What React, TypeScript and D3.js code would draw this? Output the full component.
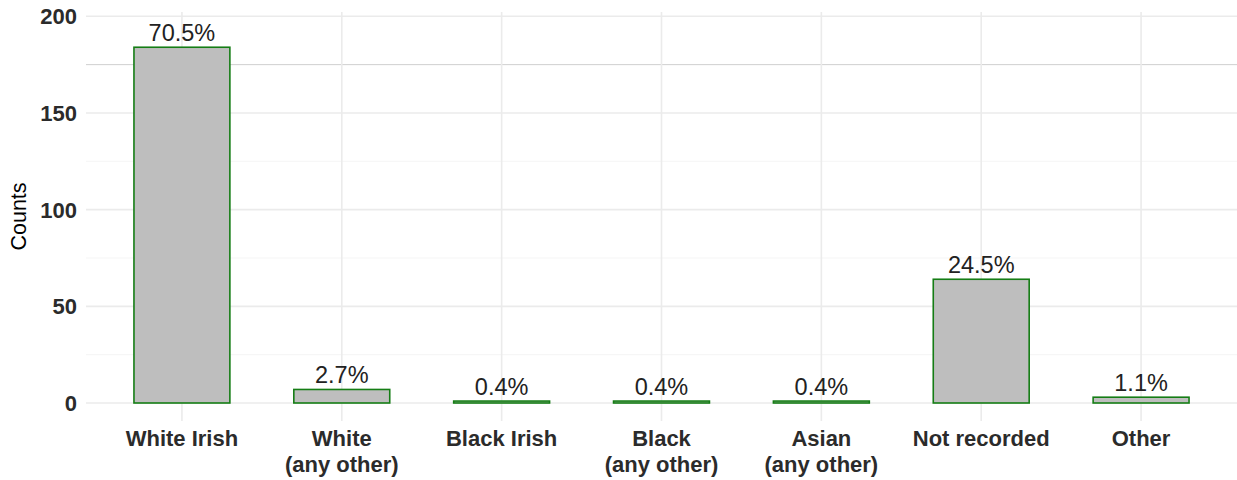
import * as d3 from 'd3';

const categories = [
  'White Irish',
  'White\n(any other)',
  'Black Irish',
  'Black\n(any other)',
  'Asian\n(any other)',
  'Not recorded',
  'Other',
];
const counts = [184, 7, 1, 1, 1, 64, 3];
const percentLabels = ['70.5%', '2.7%', '0.4%', '0.4%', '0.4%', '24.5%', '1.1%'];
const majorTicks = [0, 50, 100, 150, 200];
const minorTicks = [25, 75, 125, 175];

const W = 1237;
const H = 480;
const panel = { left: 86, right: 1237, top: 12, bottom: 421 };

export default function App() {
  // ggplot-style discrete axis: 0.6 units of padding on each side
  const step = (panel.right - panel.left) / (categories.length - 1 + 1.2);
  const x = d3
    .scalePoint<string>()
    .domain(categories)
    .range([panel.left + 0.6 * step, panel.right - 0.6 * step]);
  const barW = step * 0.6;

  const y = d3.scaleLinear().domain([0, 200]).range([403, 16.3]);

  const font = "'Liberation Sans', Arial, sans-serif";

  return (
    <svg
      width={W}
      height={H}
      style={{ position: 'fixed', left: 0, top: 0, background: '#fff' }}
      fontFamily={font}
    >
      {/* minor grid */}
      {minorTicks.map((t) => (
        <line
          key={'mn' + t}
          x1={panel.left}
          x2={panel.right}
          y1={y(t)}
          y2={y(t)}
          stroke={t === 175 ? '#cfcfcf' : '#f2f2f2'}
          strokeWidth={t === 175 ? 1 : 0.8}
        />
      ))}
      {/* major grid */}
      {majorTicks.map((t) => (
        <line
          key={'mj' + t}
          x1={panel.left}
          x2={panel.right}
          y1={y(t)}
          y2={y(t)}
          stroke="#ebebeb"
          strokeWidth={1.6}
        />
      ))}
      {categories.map((c) => (
        <line
          key={'v' + c}
          x1={x(c)!}
          x2={x(c)!}
          y1={panel.top}
          y2={panel.bottom}
          stroke="#ebebeb"
          strokeWidth={1.6}
        />
      ))}

      {/* bars */}
      {categories.map((c, i) => (
        <rect
          key={'b' + c}
          x={x(c)! - barW / 2}
          y={y(counts[i])}
          width={barW}
          height={y(0) - y(counts[i])}
          fill="#bebebe"
          stroke="#157d15"
          strokeWidth={1.6}
        />
      ))}

      {/* percentage labels */}
      {categories.map((c, i) => (
        <text
          key={'p' + c}
          x={x(c)!}
          y={y(counts[i]) - 6}
          textAnchor="middle"
          fontSize={23.5}
          fill="#222"
        >
          {percentLabels[i]}
        </text>
      ))}

      {/* y tick labels */}
      {majorTicks.map((t) => (
        <text
          key={'yt' + t}
          x={77}
          y={y(t)}
          dy="0.36em"
          textAnchor="end"
          fontSize={22}
          fontWeight="bold"
          fill="#2b2b2b"
        >
          {t}
        </text>
      ))}

      {/* x tick labels */}
      {categories.map((c) => (
        <text
          key={'xt' + c}
          x={x(c)!}
          y={446}
          textAnchor="middle"
          fontSize={22}
          fontWeight="bold"
          fill="#2b2b2b"
        >
          {c.split('\n').map((line, j) => (
            <tspan key={j} x={x(c)!} dy={j === 0 ? 0 : 25.5}>
              {line}
            </tspan>
          ))}
        </text>
      ))}

      {/* y axis title */}
      <text
        transform={`translate(26,${(panel.top + panel.bottom) / 2}) rotate(-90)`}
        textAnchor="middle"
        fontSize={21.5}
        fill="#000"
      >
        Counts
      </text>
    </svg>
  );
}
